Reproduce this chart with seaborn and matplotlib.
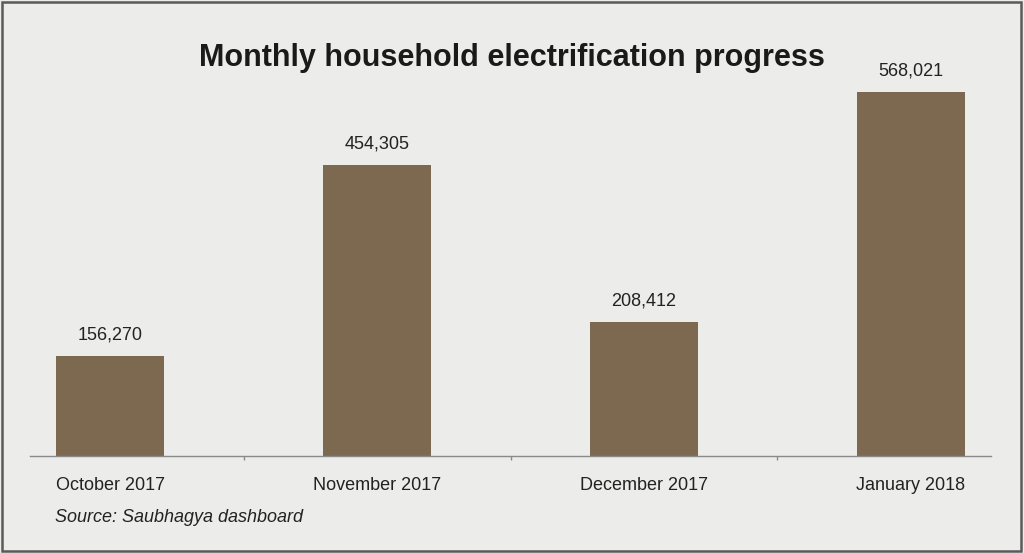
import matplotlib
matplotlib.use("Agg")
import matplotlib.pyplot as plt
import matplotlib.patches as mpatches
import seaborn as sns
import pandas as pd

months = ["October 2017", "November 2017", "December 2017", "January 2018"]
households = [156270, 454305, 208412, 568021]

BG = "#ececeb"
BAR = "#7d6850"
FONT = ["Liberation Sans", "DejaVu Sans"]

sns.set_theme(style="white")
plt.rcParams["font.family"] = FONT

df = pd.DataFrame({"month": months, "households": households})

fig = plt.figure(figsize=(10.24, 5.53), dpi=100, facecolor=BG)
ax = fig.add_axes([30 / 1024, 97 / 553, 961 / 1024, 426 / 553])
ax.set_facecolor(BG)

sns.barplot(data=df, x="month", y="households", color=BAR, saturation=1,
            width=0.405, linewidth=0, ax=ax)

ax.set_xlim(-0.3, 3.3)
ax.set_ylim(0, 665000)
ax.bar_label(ax.containers[0], labels=[f"{v:,}" for v in households],
             padding=9, fontsize=13, color="#222222", family=FONT)

for side in ["left", "right", "top"]:
    ax.spines[side].set_visible(False)
ax.spines["bottom"].set_color("#8a8a8a")
ax.spines["bottom"].set_linewidth(1)
ax.set_yticks([])
ax.set_xlabel("")
ax.set_ylabel("")
ax.set_xticks([0.5, 1.5, 2.5], minor=True)
ax.tick_params(axis="x", which="major", length=0, pad=15, labelsize=13,
               labelcolor="#222222")
ax.tick_params(axis="x", which="minor", bottom=True, direction="out",
               length=3, width=1, color="#8a8a8a")

fig.text(512 / 1024, 1 - 58 / 553, "Monthly household electrification progress",
         ha="center", va="center", fontsize=22, fontweight="bold",
         family=FONT, color="#1a1a1a")
fig.text(55 / 1024, 1 - 518 / 553, "Source: Saubhagya dashboard",
         ha="left", va="center", fontsize=13, style="italic",
         family=FONT, color="#222222")

fig.patches.append(mpatches.Rectangle((0.002, 0.003), 0.995, 0.994,
                                      transform=fig.transFigure, fill=False,
                                      edgecolor="#5a5a5a", linewidth=1.8))

fig.savefig("out.png", dpi=100, facecolor=BG)
